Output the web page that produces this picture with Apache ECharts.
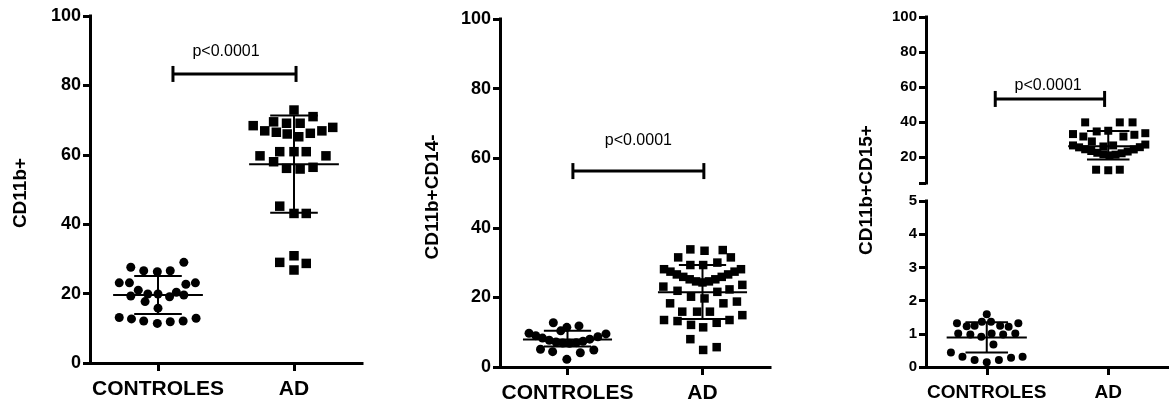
<!DOCTYPE html>
<html>
<head>
<meta charset="utf-8">
<script src="https://cdn.jsdelivr.net/npm/echarts@6/dist/echarts.min.js"></script>
<style>
html,body{margin:0;padding:0;background:#fff;}
#chart{width:1169px;height:405px;}
</style>
</head>
<body>
<div id="chart"></div>
<script>
// ---------- data ----------
const categories = ['CONTROLES', 'AD'];
const categoryPos = [1, 3];
const yNames = ['CD11b+', 'CD11b+CD14-', 'CD11b+CD15+'];
const pLabel = 'p<0.0001';
const yTicksMain = [0, 20, 40, 60, 80, 100];
const yTicksUpper3 = [20, 40, 60, 80, 100];
const yTicksLower3 = [0, 1, 2, 3, 4, 5];

// points as [horizontal spread around category, value]
const p1Controles = [
  [-0.40, 27.6], [-0.21, 26.6], [-0.01, 26.3], [0.18, 26.6], [0.38, 29.0],
  [-0.57, 23.1], [-0.42, 23.1], [0.41, 22.7], [0.55, 23.1],
  [-0.40, 19.3], [-0.29, 21.0], [-0.15, 19.9], [0.00, 19.9], [0.17, 19.1], [0.27, 20.4], [0.38, 19.6],
  [-0.19, 17.7], [0.00, 15.8],
  [-0.57, 13.1], [-0.39, 12.7], [-0.21, 12.1], [-0.01, 11.4], [0.18, 11.9], [0.37, 12.1], [0.56, 12.9]
];
const p1AD = [
  [0.00, 72.9], [0.28, 71.0], [-0.60, 68.4], [-0.30, 69.5], [-0.11, 69.1], [0.09, 69.1],
  [-0.43, 66.9], [-0.26, 66.5], [-0.10, 66.0], [0.07, 65.2], [0.24, 66.2], [0.41, 66.9], [0.57, 67.9],
  [-0.50, 59.7], [-0.21, 60.9], [0.00, 60.9], [0.18, 60.9], [0.47, 59.7],
  [-0.30, 58.0], [-0.11, 56.1], [0.09, 55.9], [0.28, 56.4],
  [-0.21, 45.2], [0.00, 43.1], [0.18, 43.1],
  [-0.21, 29.0], [0.00, 30.9], [0.18, 28.7], [0.00, 26.8]
];
const p2Controles = [
  [-0.21, 12.7], [-0.01, 11.4], [0.17, 11.8], [-0.10, 10.4],
  [-0.57, 9.7], [-0.47, 9.0], [-0.37, 8.3], [-0.27, 7.7], [-0.17, 7.2], [-0.07, 6.9],
  [0.03, 6.8], [0.13, 7.0], [0.23, 7.4], [0.33, 8.0], [0.45, 8.7], [0.57, 9.5],
  [-0.40, 5.1], [-0.22, 4.4], [-0.01, 2.2], [0.19, 4.1], [0.39, 4.9]
];
const p2AD = [
  [-0.18, 33.8], [0.03, 33.4], [0.30, 33.6], [-0.36, 31.5], [0.42, 31.5],
  [-0.18, 29.3], [0.01, 29.3], [0.22, 30.0],
  [-0.57, 28.1], [-0.475, 27.4], [-0.38, 26.6], [-0.285, 25.9], [-0.19, 25.2], [-0.095, 24.6], [0.00, 24.3],
  [0.095, 24.6], [0.19, 25.2], [0.285, 25.9], [0.38, 26.6], [0.475, 27.4], [0.57, 28.1],
  [-0.58, 23.1], [-0.37, 21.9], [-0.17, 20.2], [0.03, 19.7], [0.22, 21.6], [0.40, 22.3], [0.59, 23.6],
  [-0.48, 18.3], [0.31, 18.3], [0.51, 18.8],
  [-0.30, 15.9], [-0.08, 15.9], [0.11, 15.9],
  [-0.57, 13.5], [-0.37, 13.2], [-0.17, 12.1], [0.01, 11.4], [0.21, 12.7], [0.40, 13.5], [0.59, 14.9],
  [-0.18, 8.0], [0.01, 4.9], [0.21, 5.7]
];
const p3Controles = [
  [0.00, 1.59],
  [-0.49, 1.32], [-0.33, 1.23], [-0.20, 1.24], [-0.08, 1.36], [0.07, 1.36], [0.22, 1.24], [0.36, 1.21], [0.52, 1.32],
  [-0.47, 1.01], [-0.27, 0.98], [-0.09, 0.91], [0.08, 1.01], [0.27, 0.98], [0.47, 1.01],
  [0.11, 0.68],
  [-0.59, 0.44], [-0.40, 0.31], [-0.20, 0.21], [0.00, 0.14], [0.20, 0.21], [0.40, 0.28], [0.59, 0.31]
];
const p3AD = [
  [-0.38, 39.7], [0.19, 39.7], [0.40, 39.7],
  [-0.58, 33.0], [-0.41, 31.6], [-0.19, 34.5], [0.00, 34.9], [0.25, 31.6], [0.43, 32.6], [0.61, 33.5],
  [-0.27, 28.8], [-0.08, 25.9], [0.08, 26.5],
  [-0.58, 26.5], [-0.48, 25.4], [-0.38, 24.3], [-0.28, 23.3], [-0.18, 22.3], [-0.08, 21.4], [0.02, 20.8],
  [0.12, 21.2], [0.22, 22.0], [0.32, 23.0], [0.42, 24.2], [0.52, 25.5], [0.61, 27.0],
  [-0.20, 12.6], [0.00, 12.3], [0.19, 12.6]
];

// mean and SD lines: [controles, AD]
const p1Mean = [19.6, 57.3], p1SdHigh = [25.1, 71.3], p1SdLow = [14.1, 43.3];
const p2Mean = [7.9, 21.5],  p2SdHigh = [10.4, 29.3], p2SdLow = [5.9, 13.8];
const p3Mean = [0.89, 26.0], p3SdHigh = [1.35, 34.7], p3SdLow = [0.44, 18.5];

// significance brackets: [xStart, xEnd, y, labelX, labelY]
const p1Bracket = [1.22, 3.03, 83.3, 2.0, 89.6];
const p2Bracket = [1.08, 3.02, 56.3, 2.05, 65.2];
const p3Bracket = [1.14, 2.94, 53.1, 2.01, 61.0];

// ---------- chart ----------
const FONT = '"Liberation Sans", Arial, Helvetica, sans-serif';
const chart = echarts.init(document.getElementById('chart'), null, {renderer: 'canvas'});

function place(points, idx) {
  return points.map(p => [categoryPos[idx] + p[0], p[1]]);
}

function errorBarRender(params, api) {
  const x = api.value(0), m = api.value(1), hi = api.value(2), lo = api.value(3);
  const st = {stroke: '#000', lineWidth: 2, fill: null};
  const seg = (a, b) => ({type: 'line', shape: {x1: a[0], y1: a[1], x2: b[0], y2: b[1]}, style: st});
  return {
    type: 'group',
    children: [
      seg(api.coord([x - 0.66, m]), api.coord([x + 0.66, m])),
      seg(api.coord([x - 0.35, hi]), api.coord([x + 0.35, hi])),
      seg(api.coord([x - 0.35, lo]), api.coord([x + 0.35, lo])),
      seg(api.coord([x, hi]), api.coord([x, lo]))
    ]
  };
}

function bracketRender(params, api) {
  const x1 = api.value(0), x2 = api.value(1), y = api.value(2), lx = api.value(3), ly = api.value(4);
  const a = api.coord([x1, y]), b = api.coord([x2, y]), t = api.coord([lx, ly]);
  const st = {stroke: '#000', lineWidth: 3, fill: null};
  return {
    type: 'group',
    children: [
      {type: 'line', shape: {x1: a[0], y1: a[1], x2: b[0], y2: b[1]}, style: st},
      {type: 'line', shape: {x1: a[0], y1: a[1] - 8, x2: a[0], y2: a[1] + 8}, style: st},
      {type: 'line', shape: {x1: b[0], y1: b[1] - 8, x2: b[0], y2: b[1] + 8}, style: st},
      {type: 'text', x: t[0], y: t[1], style: {text: pLabel, fill: '#000', font: '16px ' + FONT, textAlign: 'center', textVerticalAlign: 'middle'}}
    ]
  };
}

function statsData(mean, hi, lo) {
  return categoryPos.map((x, i) => [x, mean[i], hi[i], lo[i]]);
}

const axisLineStyle = {show: true, onZero: false, lineStyle: {color: '#000', width: 3, cap: 'square'}};
function xAxis(gridIndex, fontSize, show) {
  return {
    type: 'value', gridIndex, min: 0, max: 4, show,
    axisLine: axisLineStyle,
    axisTick: {show: true, length: 8, lineStyle: {color: '#000', width: 3}, customValues: categoryPos},
    axisLabel: {show: true, customValues: categoryPos, margin: 16,
      formatter: v => categories[categoryPos.indexOf(v)] || '',
      color: '#000', fontWeight: 'bold', fontSize, fontFamily: FONT},
    splitLine: {show: false}
  };
}
function yAxis(gridIndex, min, max, ticks, labels, fontSize) {
  return {
    type: 'value', gridIndex, min, max,
    axisLine: axisLineStyle,
    axisTick: {show: true, length: 7, lineStyle: {color: '#000', width: 3}, customValues: ticks},
    axisLabel: {show: true, customValues: labels, margin: 9, color: '#000', fontWeight: 'bold', fontSize, fontFamily: FONT},
    splitLine: {show: false}
  };
}

function scatter(idx, data, symbol, size) {
  return {type: 'scatter', xAxisIndex: idx, yAxisIndex: idx, data, symbol, symbolSize: size,
    itemStyle: {color: '#000', opacity: 1}, silent: true, animation: false};
}
function stats(idx, data) {
  return {type: 'custom', xAxisIndex: idx, yAxisIndex: idx, renderItem: errorBarRender, data,
    encode: {x: 0, y: [1, 2, 3]}, clip: false, silent: true, animation: false, z: 5};
}
function bracket(idx, b) {
  return {type: 'custom', xAxisIndex: idx, yAxisIndex: idx, renderItem: bracketRender, data: [b],
    encode: {x: [0, 1, 3], y: [2, 4]}, clip: false, silent: true, animation: false, z: 5};
}

const nameStyle = (text, x, y) => ({
  type: 'text', x, y, rotation: Math.PI / 2,
  style: {text, fill: '#000', font: 'bold 19px ' + FONT, textAlign: 'center', textVerticalAlign: 'middle'}
});

const option = {
  backgroundColor: '#fff',
  animation: false,
  grid: [
    {left: 90, top: 16, width: 272, height: 347},
    {left: 500, top: 19, width: 270, height: 348},
    {left: 926, top: 17, width: 252, height: 166},
    {left: 926, top: 201, width: 252, height: 166}
  ],
  xAxis: [
    xAxis(0, 21, true),
    xAxis(1, 21, true),
    xAxis(2, 19, false),
    xAxis(3, 19, true)
  ],
  yAxis: [
    yAxis(0, 0, 100, yTicksMain, yTicksMain, 18),
    yAxis(1, 0, 100, yTicksMain, yTicksMain, 18),
    yAxis(2, 5, 100, [5].concat(yTicksUpper3), yTicksUpper3, 15),
    yAxis(3, 0, 5, yTicksLower3, yTicksLower3, 15)
  ],
  graphic: [
    nameStyle(yNames[0], 21, 193),
    nameStyle(yNames[1], 433, 197),
    nameStyle(yNames[2], 867, 190)
  ],
  series: [
    scatter(0, place(p1Controles, 0), 'circle', 9),
    scatter(0, place(p1AD, 1), 'rect', 9.5),
    stats(0, statsData(p1Mean, p1SdHigh, p1SdLow)),
    bracket(0, p1Bracket),

    scatter(1, place(p2Controles, 0), 'circle', 9),
    scatter(1, place(p2AD, 1), 'rect', 8.5),
    stats(1, statsData(p2Mean, p2SdHigh, p2SdLow)),
    bracket(1, p2Bracket),

    scatter(3, place(p3Controles, 0), 'circle', 8),
    stats(3, [[categoryPos[0], p3Mean[0], p3SdHigh[0], p3SdLow[0]]]),
    scatter(2, place(p3AD, 1), 'rect', 8),
    stats(2, [[categoryPos[1], p3Mean[1], p3SdHigh[1], p3SdLow[1]]]),
    bracket(2, p3Bracket)
  ]
};
chart.setOption(option);
</script>
</body>
</html>
